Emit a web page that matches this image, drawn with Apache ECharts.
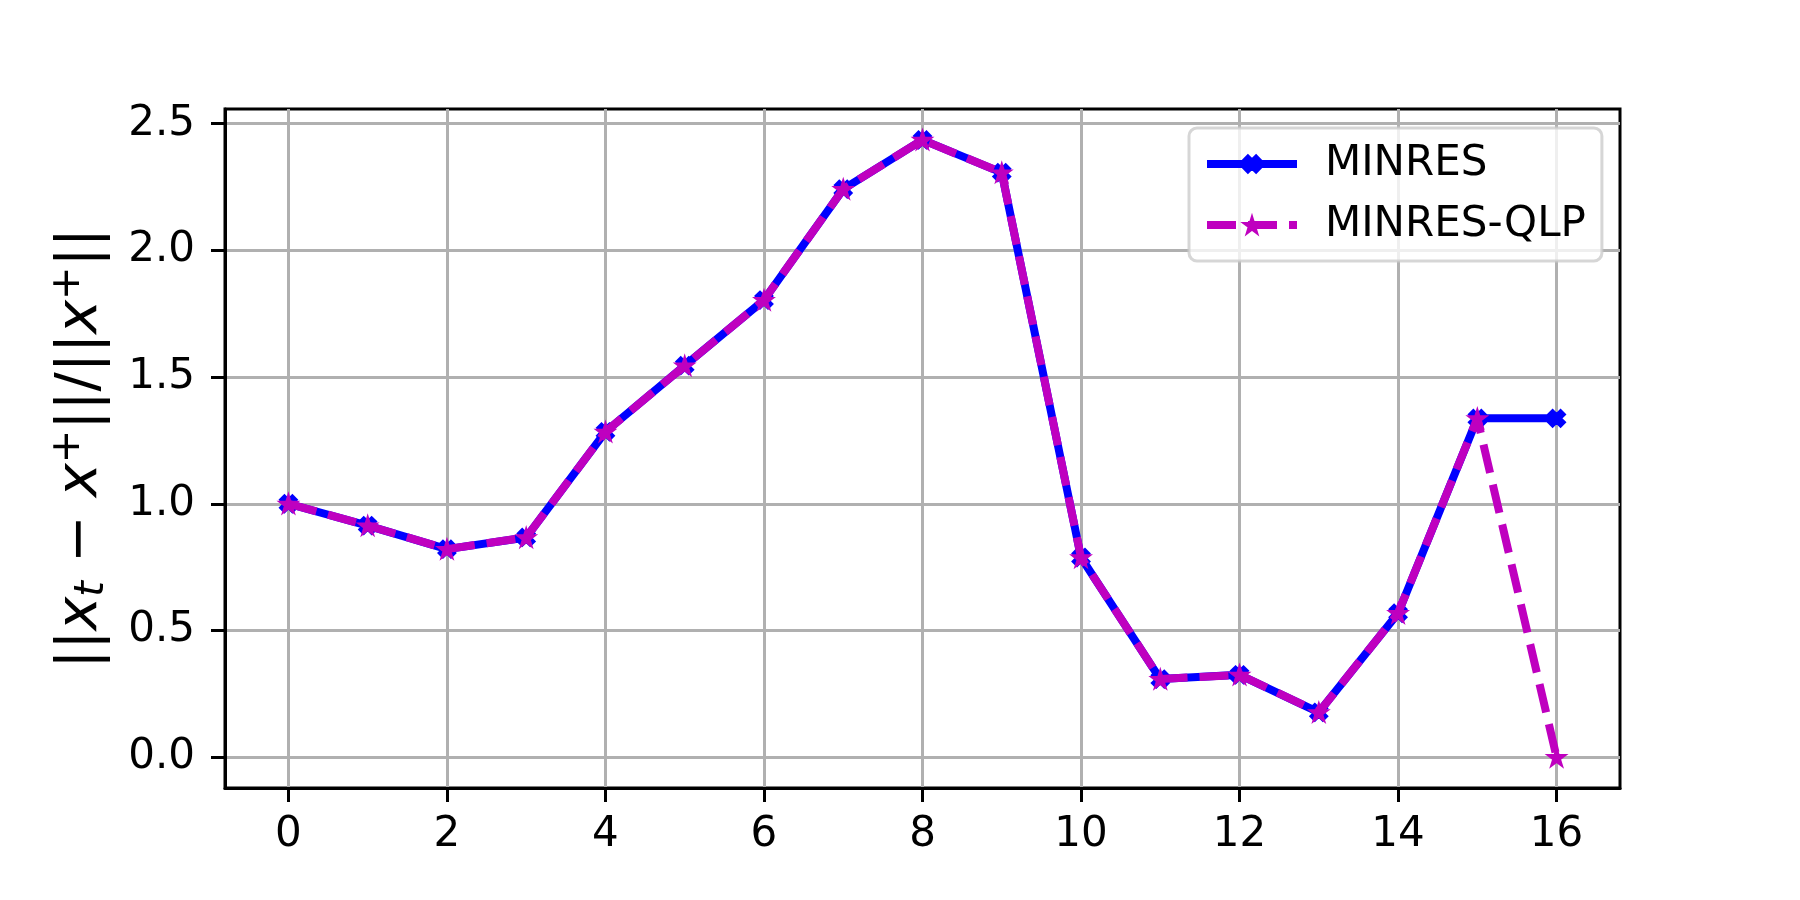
<!DOCTYPE html>
<html>
<head>
<meta charset="utf-8">
<script src="https://cdn.jsdelivr.net/npm/echarts@6/dist/echarts.min.js"></script>
<style>
html,body{margin:0;padding:0;background:#fff;}
#chart{width:1800px;height:900px;}
</style>
</head>
<body>
<div id="chart"></div>
<script>
const iterations = [0,1,2,3,4,5,6,7,8,9,10,11,12,13,14,15,16];
const minres    = [1.0,0.914,0.821,0.867,1.284,1.545,1.804,2.242,2.436,2.307,0.788,0.308,0.325,0.177,0.568,1.337,1.337];
const minresQlp = [1.0,0.914,0.821,0.867,1.284,1.545,1.804,2.242,2.436,2.307,0.788,0.308,0.325,0.177,0.568,1.337,0.0];
const xTicks = [0,2,4,6,8,10,12,14,16];
const yTicks = [0.0,0.5,1.0,1.5,2.0,2.5];
const seriesNames = ['MINRES','MINRES-QLP'];

const xSymbol = 'path://M0,1.6 L1.6,0 L3,1.4 L4.4,0 L6,1.6 L4.6,3 L6,4.4 L4.4,6 L3,4.6 L1.6,6 L0,4.4 L1.4,3 Z';
const starSymbol = 'path://M50,0 L61.8,35.4 L100,35.4 L69.1,57.3 L80.9,92.7 L50,70.8 L19.1,92.7 L30.9,57.3 L0,35.4 L38.2,35.4 Z';

const font = 'DejaVu Sans';
const chart = echarts.init(document.getElementById('chart'), null, {renderer:'canvas'});
chart.setOption({
  animation: false,
  backgroundColor: '#fff',
  grid: {left:225, right:180, top:109, bottom:112, show:true, borderColor:'#000', borderWidth:3, backgroundColor:'transparent'},
  legend: {
    orient: 'vertical',
    left: 1189, top: 128,
    padding: [15,16,15,14],
    itemGap: 19,
    itemWidth: 90, itemHeight: 22,
    backgroundColor: 'rgba(255,255,255,0.8)',
    borderColor: 'rgba(204,204,204,0.8)',
    borderWidth: 3,
    borderRadius: 8,
    lineStyle: {width: 8},
    textStyle: {fontFamily: font, fontSize: 42, color:'#000', padding:[0,0,0,23]},
    data: seriesNames
  },
  xAxis: {
    type: 'value', min: -0.8, max: 16.8,
    axisLine: {show:true, onZero:false, lineStyle:{color:'#000', width:3}},
    axisTick: {show:true, customValues: xTicks, length:14, lineStyle:{color:'#000', width:3}},
    axisLabel: {customValues: xTicks, margin: 26, fontFamily: font, fontSize: 42, color:'#000', formatter: v => String(v)},
    splitLine: {show:true, lineStyle:{color:'#b0b0b0', width:3}}
  },
  yAxis: {
    type: 'value', min: -0.1218, max: 2.558,
    axisLine: {show:true, onZero:false, lineStyle:{color:'#000', width:3}},
    axisTick: {show:true, customValues: yTicks, length:14, lineStyle:{color:'#000', width:3}},
    axisLabel: {customValues: yTicks, margin: 30, fontFamily: font, fontSize: 42, color:'#000', formatter: v => v.toFixed(1)},
    splitLine: {show:true, lineStyle:{color:'#b0b0b0', width:3}},
    name: '{n|||}{i|x}{sub|t}{n| − }{i|x}{sup|+}{n|||/||}{i|x}{sup|+}{n|||}',
    nameLocation: 'middle',
    nameRotate: 90,
    nameGap: 112,
    nameTextStyle: {
      fontFamily: font, fontSize: 57, color:'#000',
      rich: {
        n: {fontFamily: font, fontSize: 57, lineHeight: 64, color:'#000'},
        i: {fontFamily: font, fontSize: 57, fontStyle:'italic', lineHeight: 64, color:'#000'},
        sub: {fontFamily: font, fontSize: 40, fontStyle:'italic', lineHeight: 30, verticalAlign:'bottom', color:'#000'},
        sup: {fontFamily: font, fontSize: 40, lineHeight: 40, verticalAlign:'top', color:'#000'}
      }
    }
  },
  series: [
    {
      name: seriesNames[0], type: 'line',
      data: iterations.map((x,i) => [x, minres[i]]),
      lineStyle: {color:'#0000ff', width:8},
      itemStyle: {color:'#0000ff', borderColor:'#0000ff', borderWidth:2},
      symbol: xSymbol, symbolSize: 17, showSymbol: true,
      z: 2
    },
    {
      name: seriesNames[1], type: 'line',
      data: iterations.map((x,i) => [x, minresQlp[i]]),
      lineStyle: {color:'#bf00bf', width:8, type:[29,12]},
      itemStyle: {color:'#bf00bf', borderColor:'#bf00bf', borderWidth:2},
      symbol: starSymbol, symbolSize: 18, showSymbol: true,
      z: 3
    }
  ]
});
</script>
</body>
</html>
